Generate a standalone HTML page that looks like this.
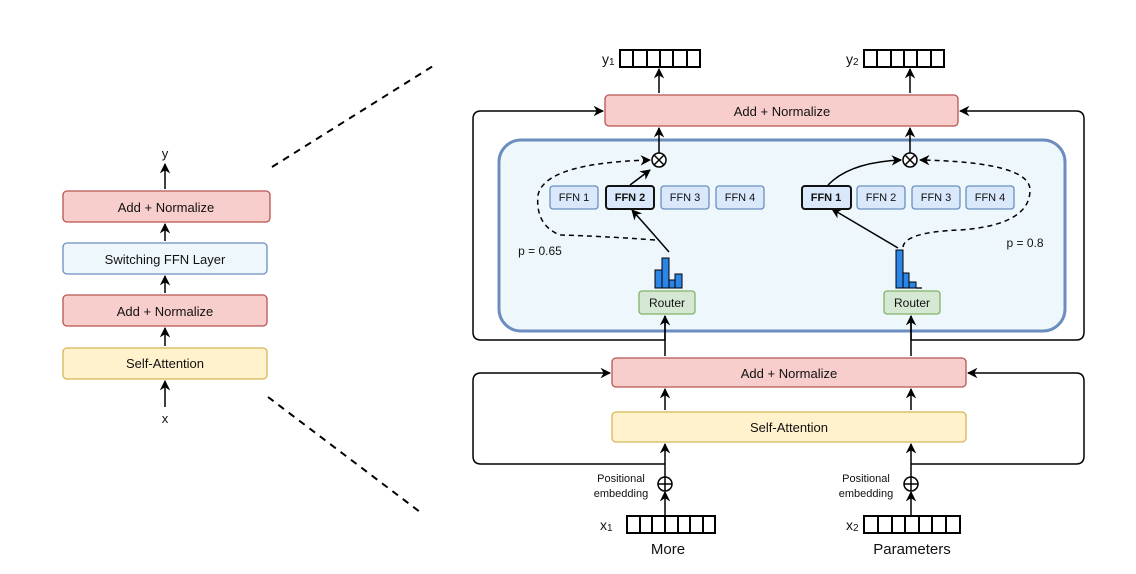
<!DOCTYPE html>
<html><head><meta charset="utf-8"><style>body{margin:0;background:#fff}svg{display:block}text{font-family:"Liberation Sans",sans-serif;fill:#111}</style></head><body>
<svg width="1136" height="574" viewBox="0 0 1136 574" xmlns="http://www.w3.org/2000/svg">
<defs><marker id="a" viewBox="0 0 10 10" refX="9" refY="5" markerWidth="7" markerHeight="7" orient="auto-start-reverse"><path d="M0,0 L10,5 L0,10 L3,5z" fill="#000"/></marker></defs>
<g stroke="#000" stroke-width="1.5" fill="none">
<!-- left stack -->
<line x1="165" y1="189" x2="165" y2="164" marker-end="url(#a)"/>
<line x1="165" y1="241" x2="165" y2="224" marker-end="url(#a)"/>
<line x1="165" y1="293" x2="165" y2="276" marker-end="url(#a)"/>
<line x1="165" y1="346" x2="165" y2="328" marker-end="url(#a)"/>
<line x1="165" y1="407" x2="165" y2="381" marker-end="url(#a)"/>
<line x1="272" y1="167" x2="433" y2="66" stroke-width="2" stroke-dasharray="7,6"/>
<line x1="268" y1="397" x2="420" y2="512" stroke-width="2" stroke-dasharray="7,6"/>
</g>
<rect x="63" y="191" width="207" height="31" rx="4" fill="#f8cecc" stroke="#b85450" stroke-width="1.3"/>
<rect x="63" y="243" width="204" height="31" rx="4" fill="#eef8fc" stroke="#6c8ebf" stroke-width="1.3"/>
<rect x="63" y="295" width="204" height="31" rx="4" fill="#f8cecc" stroke="#b85450" stroke-width="1.3"/>
<rect x="63" y="348" width="204" height="31" rx="4" fill="#fff2cc" stroke="#d6b656" stroke-width="1.3"/>
<g font-size="13" text-anchor="middle">
<text x="165" y="158">y</text>
<text x="166" y="212">Add + Normalize</text>
<text x="165" y="264">Switching FFN Layer</text>
<text x="165" y="316">Add + Normalize</text>
<text x="165" y="368">Self-Attention</text>
<text x="165" y="423">x</text>
</g>
<!-- right: outer frames -->
<g stroke="#000" stroke-width="1.5" fill="none">
<path d="M665,340 H481 Q473,340 473,332 V119 Q473,111 481,111 H603" marker-end="url(#a)"/>
<path d="M911,340 H1076 Q1084,340 1084,332 V119 Q1084,111 1076,111 H960" marker-end="url(#a)"/>
<path d="M665,464 H481 Q473,464 473,456 V381 Q473,373 481,373 H610" marker-end="url(#a)"/>
<path d="M911,464 H1076 Q1084,464 1084,456 V381 Q1084,373 1076,373 H968" marker-end="url(#a)"/>
</g>
<rect x="499" y="140" width="566" height="191" rx="22" fill="#eef8fc" stroke="#6c8ebf" stroke-width="3"/>
<g stroke="#000" stroke-width="1.5" fill="none">
<line x1="659" y1="93" x2="659" y2="69" marker-end="url(#a)"/>
<line x1="910" y1="93" x2="910" y2="69" marker-end="url(#a)"/>
<line x1="659" y1="153" x2="659" y2="128" marker-end="url(#a)"/>
<line x1="910" y1="153" x2="910" y2="128" marker-end="url(#a)"/>
<line x1="665" y1="356" x2="665" y2="316" />
<line x1="911" y1="356" x2="911" y2="316" />
<line x1="665" y1="340" x2="665" y2="316" marker-end="url(#a)"/>
<line x1="911" y1="340" x2="911" y2="316" marker-end="url(#a)"/>
<line x1="665" y1="410" x2="665" y2="389" marker-end="url(#a)"/>
<line x1="911" y1="410" x2="911" y2="389" marker-end="url(#a)"/>
<line x1="665" y1="477" x2="665" y2="444" marker-end="url(#a)"/>
<line x1="911" y1="477" x2="911" y2="444" marker-end="url(#a)"/>
<line x1="665" y1="533" x2="665" y2="492" marker-end="url(#a)"/>
<line x1="911" y1="533" x2="911" y2="492" marker-end="url(#a)"/>
<circle cx="659" cy="160" r="7" fill="#fff"/><path d="M654,155 L664,165 M664,155 L654,165"/>
<circle cx="910" cy="160" r="7" fill="#fff"/><path d="M905,155 L915,165 M915,155 L905,165"/>
<circle cx="665" cy="484" r="7" fill="#fff"/><path d="M658,484 H672 M665,477 V491"/>
<circle cx="911" cy="484" r="7" fill="#fff"/><path d="M904,484 H918 M911,477 V491"/>
<!-- routing arrows -->
<path d="M630,185 L650,170" marker-end="url(#a)"/>
<path d="M669,252 Q650,230 632,210" marker-end="url(#a)"/>
<path d="M828,185 Q850,162 901,160" marker-end="url(#a)"/>
<path d="M898,248 L832,209" marker-end="url(#a)"/>
<path d="M655,240 Q600,236 560,235 Q535,225 538,195 Q545,163 650,160" stroke-dasharray="5,4" marker-end="url(#a)"/>
<path d="M903,247 Q905,232 960,230 Q1030,225 1030,190 Q1030,162 920,160" stroke-dasharray="5,4" marker-end="url(#a)"/>
</g>
<rect x="605" y="95" width="353" height="31" rx="4" fill="#f8cecc" stroke="#b85450" stroke-width="1.3"/>
<rect x="612" y="358" width="354" height="29" rx="4" fill="#f8cecc" stroke="#b85450" stroke-width="1.3"/>
<rect x="612" y="412" width="354" height="30" rx="4" fill="#fff2cc" stroke="#d6b656" stroke-width="1.3"/>
<!-- vectors -->
<g stroke="#000" stroke-width="2" fill="#fff">
<rect x="620" y="50" width="80" height="17"/><path d="M633,50V67M647,50V67M660,50V67M673,50V67M687,50V67"/>
<rect x="864" y="50" width="80" height="17"/><path d="M877,50V67M891,50V67M904,50V67M917,50V67M931,50V67"/>
<rect x="627" y="516" width="88" height="17"/><path d="M640,516V533M652,516V533M665,516V533M678,516V533M690,516V533M703,516V533"/>
<rect x="864" y="516" width="96" height="17"/><path d="M878,516V533M892,516V533M905,516V533M919,516V533M932,516V533M946,516V533"/>
</g>
<!-- FFN boxes -->
<g stroke="#6c8ebf" stroke-width="1.3" fill="#dae8fc">
<rect x="550" y="186" width="48" height="23" rx="3"/>
<rect x="661" y="186" width="48" height="23" rx="3"/>
<rect x="716" y="186" width="48" height="23" rx="3"/>
<rect x="857" y="186" width="48" height="23" rx="3"/>
<rect x="912" y="186" width="48" height="23" rx="3"/>
<rect x="966" y="186" width="48" height="23" rx="3"/>
</g>
<rect x="606" y="186" width="48" height="23" rx="3" fill="#dae8fc" stroke="#111" stroke-width="2"/>
<rect x="802" y="186" width="49" height="23" rx="3" fill="#dae8fc" stroke="#111" stroke-width="2"/>
<g font-size="11" text-anchor="middle">
<text x="574" y="201">FFN 1</text><text x="630" y="201" font-weight="bold">FFN 2</text><text x="685" y="201">FFN 3</text><text x="740" y="201">FFN 4</text>
<text x="826" y="201" font-weight="bold">FFN 1</text><text x="881" y="201">FFN 2</text><text x="936" y="201">FFN 3</text><text x="990" y="201">FFN 4</text>
</g>
<!-- histograms -->
<g fill="#2b86e8" stroke="#000" stroke-width="1">
<rect x="655" y="270" width="7" height="18"/><rect x="662" y="258" width="7" height="30"/><rect x="669" y="280" width="6" height="8"/><rect x="675" y="274" width="7" height="14"/>
<rect x="896" y="250" width="7" height="38"/><rect x="903" y="273" width="6" height="15"/><rect x="909" y="282" width="7" height="6"/>
</g>
<line x1="916" y1="288" x2="922" y2="288" stroke="#000" stroke-width="1.3"/>
<rect x="639" y="291" width="56" height="23" rx="3" fill="#d5e8d4" stroke="#82b366" stroke-width="1.3"/>
<rect x="884" y="291" width="56" height="23" rx="3" fill="#d5e8d4" stroke="#82b366" stroke-width="1.3"/>
<g font-size="12" text-anchor="middle">
<text x="667" y="307">Router</text><text x="912" y="307">Router</text>
<text x="540" y="255">p = 0.65</text><text x="1025" y="247">p = 0.8</text>
<text x="782" y="116" font-size="13">Add + Normalize</text>
<text x="789" y="378" font-size="13">Add + Normalize</text>
<text x="789" y="432" font-size="13">Self-Attention</text>
<text x="621" y="482" font-size="11">Positional</text><text x="621" y="497" font-size="11">embedding</text>
<text x="866" y="482" font-size="11">Positional</text><text x="866" y="497" font-size="11">embedding</text>
<text x="668" y="554" font-size="15">More</text><text x="912" y="554" font-size="15">Parameters</text>
</g>
<g font-size="14">
<text x="602" y="64">y<tspan font-size="10" dy="1">1</tspan></text>
<text x="846" y="64">y<tspan font-size="10" dy="1">2</tspan></text>
<text x="600" y="530">x<tspan font-size="10" dy="1">1</tspan></text>
<text x="846" y="530">x<tspan font-size="10" dy="1">2</tspan></text>
</g>
</svg>
</body></html>
